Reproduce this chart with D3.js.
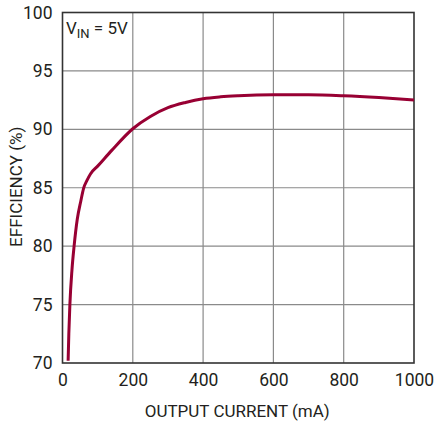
<!DOCTYPE html>
<html>
<head>
<meta charset="utf-8">
<script src="https://cdn.jsdelivr.net/npm/d3@7"></script>
<style>
  body { margin: 0; background: #fff; }
  text { font-family: "Liberation Sans Narrow", "Roboto", sans-serif; fill: #231f20; }
</style>
</head>
<body>
<svg id="chart" width="435" height="423"></svg>
<script>
// efficiency curve
var current = [16, 18, 21, 27, 33, 42, 52, 60, 70, 80, 100, 140, 200, 250, 300, 350, 400, 450, 500, 600, 700, 800, 900, 1000];
var efficiency = [70.2, 72.5, 75, 78, 80, 82.3, 83.85, 84.95, 85.65, 86.2, 86.85, 88.2, 90.05, 91.1, 91.85, 92.3, 92.62, 92.78, 92.87, 92.95, 92.95, 92.87, 92.72, 92.52];
var xTicks = [0, 200, 400, 600, 800, 1000];
var yTicks = [70, 75, 80, 85, 90, 95, 100];

var margin = {top: 12.5, right: 21, bottom: 60, left: 62.5},
    width = 435 - margin.left - margin.right,
    height = 423 - margin.top - margin.bottom;

var svg = d3.select('#chart');
var g = svg.append('g').attr('transform', 'translate(' + margin.left + ',' + margin.top + ')');

var x = d3.scaleLinear().domain([0, 1000]).range([0, width]);
var y = d3.scaleLinear().domain([70, 100]).range([height, 0]);

// grid
g.selectAll('.vgrid').data(xTicks.slice(1, -1)).enter().append('line')
  .attr('x1', function(d) { return x(d); }).attr('x2', function(d) { return x(d); })
  .attr('y1', 0).attr('y2', height)
  .attr('stroke', '#8a8a8a').attr('stroke-width', 1.2);
g.selectAll('.hgrid').data(yTicks.slice(1, -1)).enter().append('line')
  .attr('y1', function(d) { return y(d); }).attr('y2', function(d) { return y(d); })
  .attr('x1', 0).attr('x2', width)
  .attr('stroke', '#8a8a8a').attr('stroke-width', 1.2);

// frame
g.append('rect').attr('width', width).attr('height', height)
  .attr('fill', 'none').attr('stroke', '#333').attr('stroke-width', 1.6);

// axes (labels only)
var xAxis = g.append('g').attr('transform', 'translate(0,' + height + ')')
  .call(d3.axisBottom(x).tickValues(xTicks).tickFormat(d3.format('d')).tickSize(0).tickPadding(11));
var yAxis = g.append('g')
  .call(d3.axisLeft(y).tickValues(yTicks).tickFormat(d3.format('d')).tickSize(0).tickPadding(10));
[xAxis, yAxis].forEach(function(a) {
  a.select('.domain').remove();
  a.selectAll('text').attr('font-size', 17.5).style('fill', '#231f20');
  a.attr('font-family', null).attr('font-size', null);
});

// curve
var line = d3.line()
  .x(function(d, i) { return x(current[i]); })
  .y(function(d) { return y(d); })
  .curve(d3.curveMonotoneX);
g.append('path').datum(efficiency)
  .attr('d', line)
  .attr('fill', 'none')
  .attr('stroke', '#980033')
  .attr('stroke-width', 3);

// titles
svg.append('text').attr('x', margin.left + width / 2 - 1).attr('y', 416.5)
  .attr('text-anchor', 'middle').attr('font-size', 17).text('OUTPUT CURRENT (mA)');
svg.append('text').attr('transform', 'translate(22,' + (margin.top + height / 2 - 1) + ') rotate(-90)')
  .attr('text-anchor', 'middle').attr('font-size', 17).text('EFFICIENCY (%)');

var vin = svg.append('text').attr('x', 66).attr('y', 33.5).attr('font-size', 17);
vin.append('tspan').text('V');
vin.append('tspan').attr('dy', 4.5).attr('font-size', 13).text('IN');
vin.append('tspan').attr('dy', -4.5).text(' = 5V');
</script>
</body>
</html>
